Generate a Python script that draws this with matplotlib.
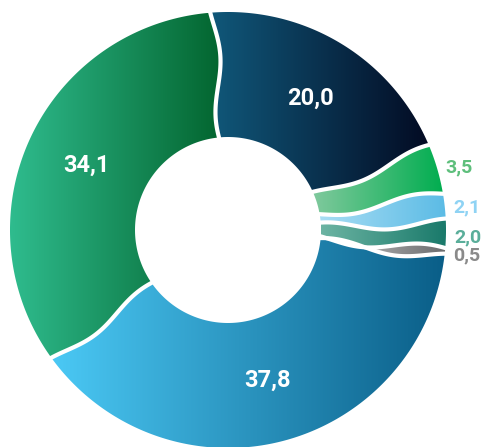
import numpy as np
import matplotlib
matplotlib.use("Agg")
import matplotlib.pyplot as plt
from matplotlib.patches import Polygon
from matplotlib.colors import LinearSegmentedColormap

# ---- data (clockwise from the top) ----
labels = ["20,0", "3,5", "2,1", "2,0", "0,5", "37,8", "34,1"]
values = [20.0, 3.5, 2.1, 2.0, 0.5, 37.8, 34.1]
colors_left = ["#10587a", "#80c99d", "#a8ddf4", "#6cb4a3", "#cacaca", "#4bc9f5", "#2fbc8e"]
colors_right = ["#030b23", "#00ad4f", "#5bbbe5", "#19796a", "#6b6c6e", "#0a5e88", "#03652f"]
label_colors = ["white", "#5ebf7c", "#8fd3f4", "#5aae9a", "#8a8a8a", "white", "white"]
outside = [False, True, True, True, True, False, False]

W, H = 484, 447
cx, cy = 228.0, 217.0
R_out, R_in = 218.0, 93.0
start_angle = 94.0
wave_amp = 4.5
phases = [0.6, 2.2, 3.0, 1.4, 2.6, 0.9, 4.0]

fig = plt.figure(figsize=(W / 100, H / 100), dpi=100)
ax = fig.add_axes([0, 0, 1, 1])

total = sum(values)
bounds = [start_angle]
for v in values:
    bounds.append(bounds[-1] - 360.0 * v / total)


def boundary(theta, phase, n=80):
    r = np.linspace(R_in, R_out, n)
    t = (r - R_in) / (R_out - R_in)
    off = wave_amp * np.sin(2 * np.pi * t + phase)
    ang = np.radians(theta) + off / r
    return r, ang


def pts(r, ang):
    return np.column_stack([cx + r * np.cos(ang), cy + r * np.sin(ang)])


bnd = []
for k in range(len(values)):
    bnd.append(boundary(bounds[k], phases[k]))
bnd.append(bnd[0])  # closing boundary is the first

for k, v in enumerate(values):
    r0, a0 = bnd[k]
    r1, a1 = bnd[k + 1]
    a1 = a1.copy()
    while a1[-1] > a0[-1]:
        a1 -= 2 * np.pi
    outer = np.linspace(a0[-1], a1[-1], 200)
    inner = np.linspace(a1[0], a0[0], 200)
    poly_pts = np.vstack([
        pts(r0, a0),
        pts(np.full_like(outer, R_out), outer),
        pts(r1[::-1], a1[::-1]),
        pts(np.full_like(inner, R_in), inner),
    ])
    poly = Polygon(poly_pts, closed=True, facecolor="none", edgecolor="none")
    ax.add_patch(poly)
    x0, x1 = poly_pts[:, 0].min(), poly_pts[:, 0].max()
    y0, y1 = poly_pts[:, 1].min(), poly_pts[:, 1].max()
    cmap = LinearSegmentedColormap.from_list("g%d" % k, [colors_left[k], colors_right[k]])
    grad = np.linspace(0, 1, 256).reshape(1, -1)
    im = ax.imshow(grad, extent=[x0, x1, y0, y1], cmap=cmap, aspect="auto",
                   interpolation="bicubic", origin="lower", zorder=1)
    im.set_clip_path(poly)

# white wavy separators
for k in range(len(values)):
    r, a = bnd[k]
    rr = np.concatenate([[R_in - 4], r, [R_out + 4]])
    aa = np.concatenate([[a[0]], a, [a[-1]]])
    p = pts(rr, aa)
    ax.plot(p[:, 0], p[:, 1], color="white", lw=3.0, solid_capstyle="butt", zorder=3)

# labels
for k, v in enumerate(values):
    mid = np.radians((bounds[k] + bounds[k + 1]) / 2)
    if outside[k]:
        rl = R_out + 8
        ax.text(cx + rl * np.cos(mid), cy + (rl + 6) * np.sin(mid), labels[k],
                ha="left", va="center", color=label_colors[k], fontsize=14,
                fontweight="bold", family="Roboto", zorder=4)
    else:
        rl = (R_in + R_out) / 2
        ax.text(cx + rl * np.cos(mid), cy + rl * np.sin(mid), labels[k],
                ha="center", va="center", color=label_colors[k], fontsize=17,
                fontweight="bold", family="Roboto", zorder=4)

ax.set_xlim(0, W)
ax.set_ylim(0, H)
ax.set_aspect("equal")
ax.axis("off")
fig.savefig("out.png", dpi=100)
